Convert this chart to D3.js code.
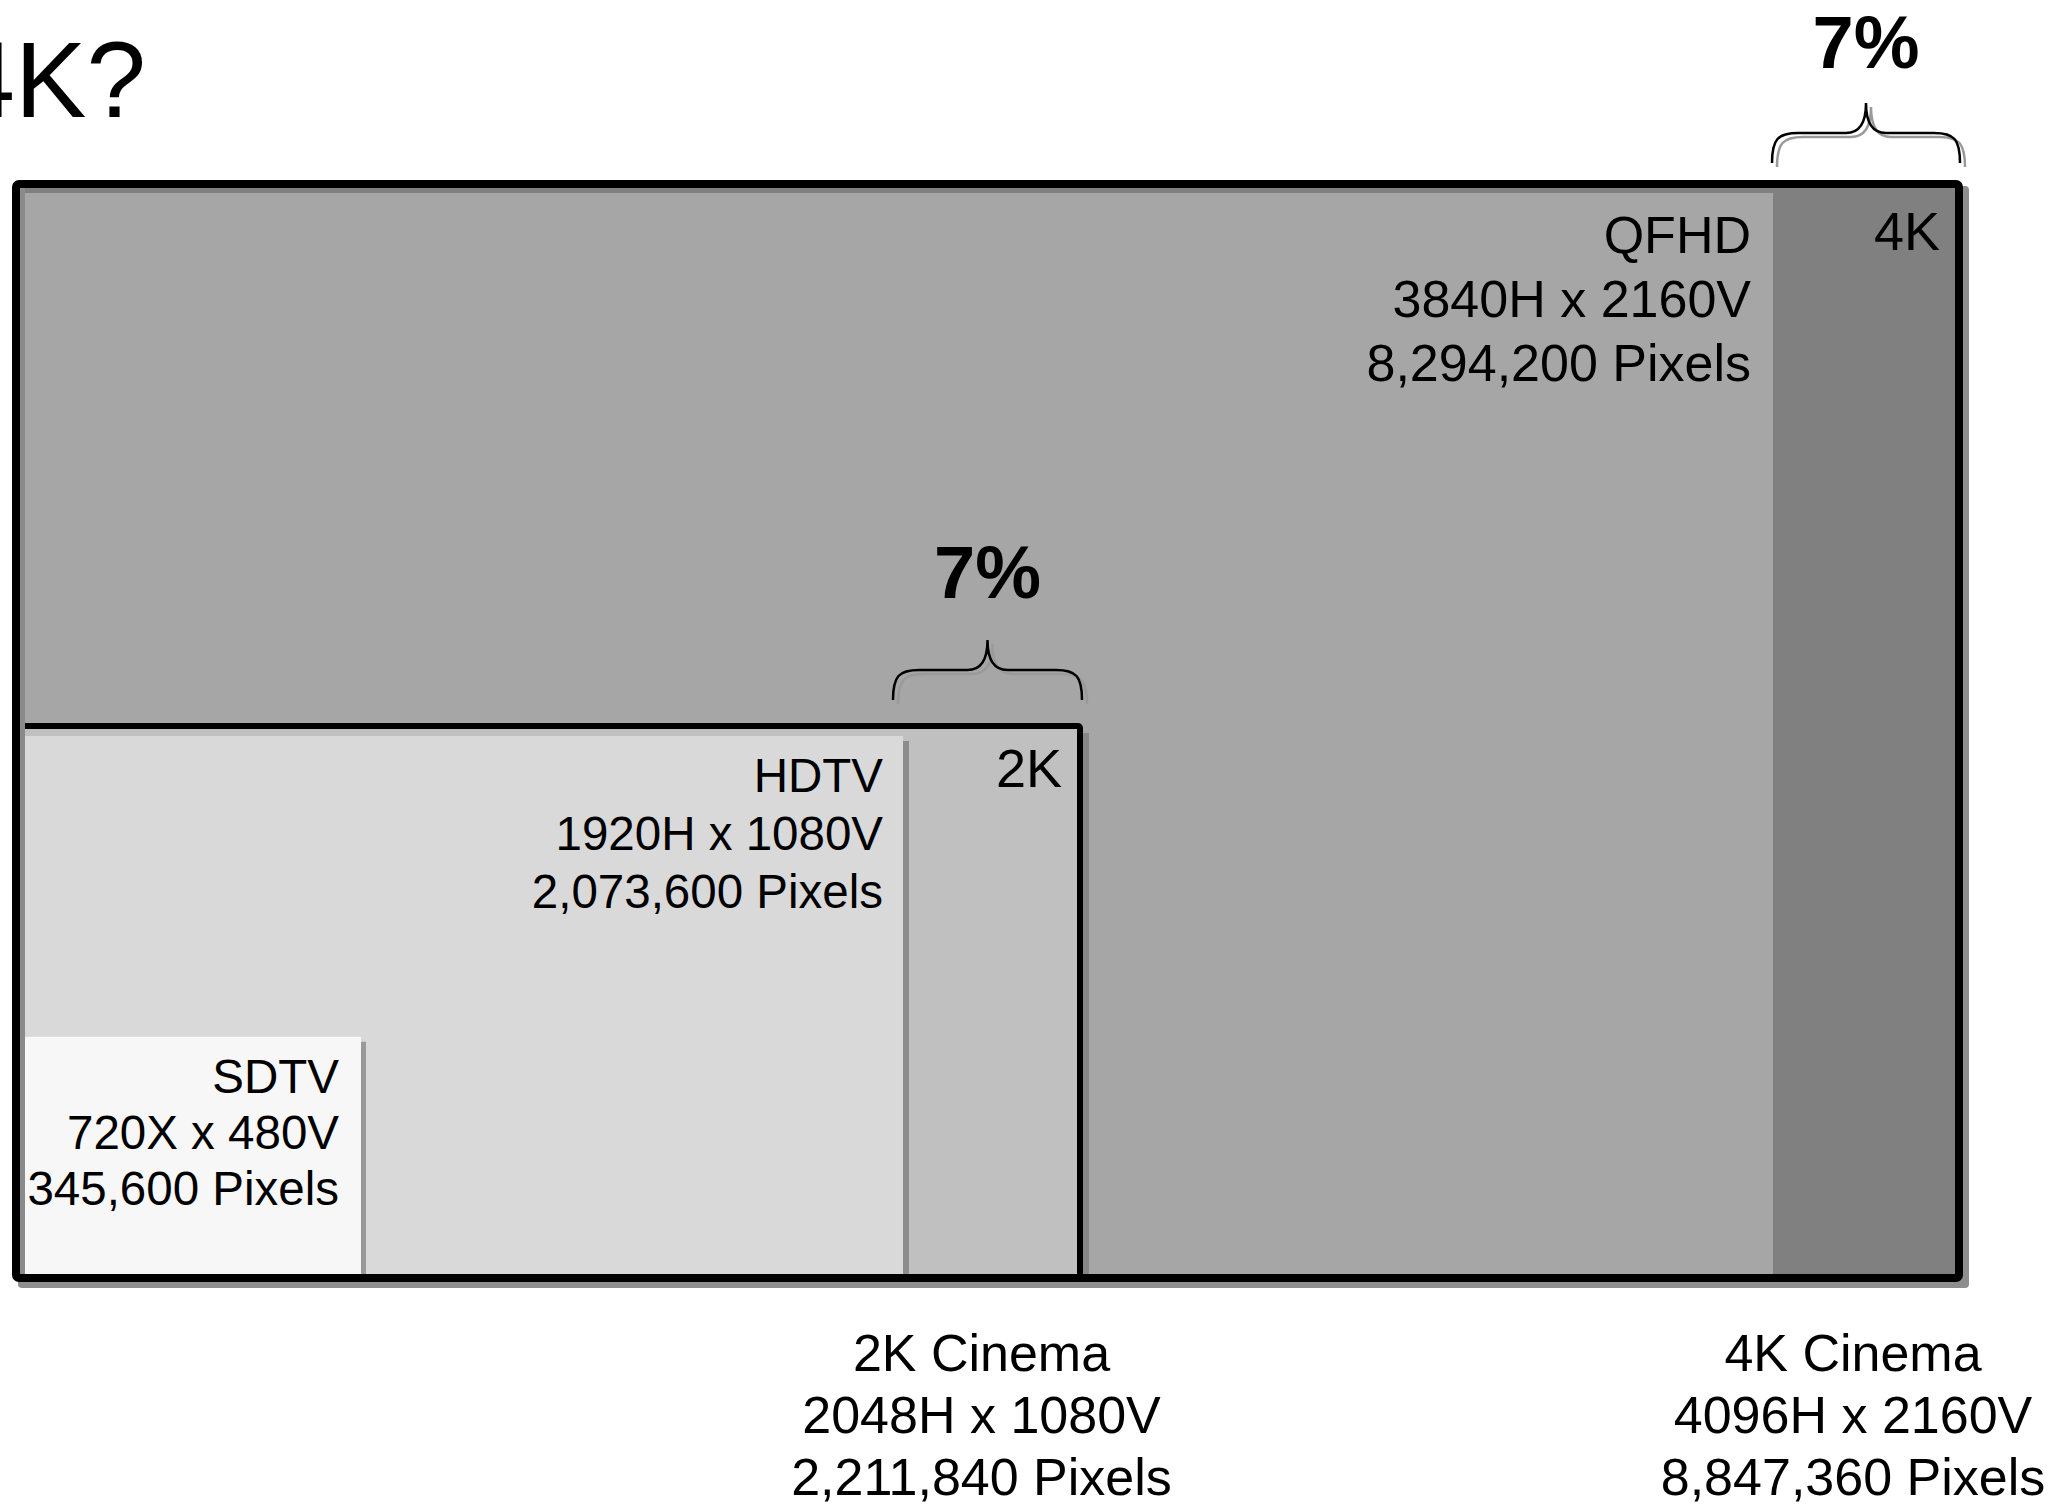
<!DOCTYPE html>
<html>
<head>
<meta charset="utf-8">
<script src="https://cdn.jsdelivr.net/npm/d3@7"></script>
<style>
  html, body { margin: 0; padding: 0; background: #ffffff; }
  svg { display: block; }
  text { font-family: "Liberation Sans", Arial, sans-serif; fill: #000; }
</style>
</head>
<body>
<svg id="chart" width="2066" height="1507"></svg>
<script>
// ---------- DATA ----------
const formats      = ["SDTV", "HDTV", "2K Cinema", "QFHD", "4K Cinema"];
const widthsH      = [720, 1920, 2048, 3840, 4096];
const heightsV     = [480, 1080, 1080, 2160, 2160];
const resLabels    = ["720X x 480V", "1920H x 1080V", "2048H x 1080V", "3840H x 2160V", "4096H x 2160V"];
const pixelLabels  = ["345,600 Pixels", "2,073,600 Pixels", "2,211,840 Pixels", "8,294,200 Pixels", "8,847,360 Pixels"];
const stripLabels  = ["2K", "4K"];
const braceFrom    = [1920, 3840];
const braceTo      = [2048, 4096];
const braceLabels  = ["7%", "7%"];
const titleText    = "4K?";

// ---------- LAYOUT ----------
const svg = d3.select("#chart");
// schematic (non-uniform) horizontal scale, vertical linear scale
const x = d3.scaleLinear().domain([0, 720, 1920, 2048, 3840, 4096]).range([20, 361, 903, 1080, 1773, 1959]);
const y = d3.scaleLinear().domain([0, 2160]).range([1274, 184]);

const fills = { "SDTV": "#f7f7f7", "HDTV": "#d9d9d9", "2K Cinema": "#c0c0c0", "QFHD": "#a6a6a6", "4K Cinema": "#808080" };
const idx = name => formats.indexOf(name);

// Title
svg.append("text").attr("x", 146).attr("y", 117)
  .attr("text-anchor", "end").style("font-size", "107px").text(titleText);

// Outer shadow
const o = idx("4K Cinema");
svg.append("rect")
  .attr("x", x(0) - 8 + 6).attr("y", y(heightsV[o]) - 4 + 6)
  .attr("width", x(widthsH[o]) + 4 - (x(0) - 8)).attr("height", y(0) + 8 - (y(heightsV[o]) - 4))
  .attr("rx", 4).attr("fill", "#8e8e8e");

// 4K fill
svg.append("rect")
  .attr("x", x(0) - 4).attr("y", y(heightsV[o]))
  .attr("width", x(widthsH[o]) - x(0) + 4).attr("height", y(0) - y(heightsV[o]) + 4)
  .attr("fill", fills["4K Cinema"]);

// QFHD fill
const q = idx("QFHD");
svg.append("rect")
  .attr("x", x(0) + 5).attr("y", y(heightsV[q]) + 9)
  .attr("width", x(widthsH[q]) - x(0) - 5).attr("height", y(0) - y(heightsV[q]) - 9)
  .attr("fill", fills["QFHD"]);

// 2K box: shadow, fill, border
const k2 = idx("2K Cinema");
svg.append("rect")
  .attr("x", x(widthsH[k2]) + 3).attr("y", y(heightsV[k2]) + 4)
  .attr("width", 6).attr("height", y(0) - y(heightsV[k2]))
  .attr("fill", "#888888");
svg.append("rect")
  .attr("x", x(0) - 3).attr("y", y(heightsV[k2]) - 3)
  .attr("width", x(widthsH[k2]) - x(0) + 3).attr("height", y(0) - y(heightsV[k2]) + 6)
  .attr("fill", fills["2K Cinema"]).attr("stroke", "#000").attr("stroke-width", 6).attr("rx", 2);

// HDTV: shadow + fill
const h = idx("HDTV");
svg.append("rect")
  .attr("x", x(widthsH[h])).attr("y", y(heightsV[h]) + 12)
  .attr("width", 6).attr("height", y(0) - y(heightsV[h]) - 12)
  .attr("fill", "#8c8c8c");
svg.append("rect")
  .attr("x", x(0) + 5).attr("y", y(heightsV[h]) + 7)
  .attr("width", x(widthsH[h]) - x(0) - 5).attr("height", y(0) - y(heightsV[h]) - 7)
  .attr("fill", fills["HDTV"]);

// SDTV: shadow + fill
const s = idx("SDTV");
svg.append("rect")
  .attr("x", x(widthsH[s])).attr("y", y(heightsV[s]) + 10)
  .attr("width", 5).attr("height", y(0) - y(heightsV[s]) - 10)
  .attr("fill", "#999999");
svg.append("rect")
  .attr("x", x(0) + 5).attr("y", y(heightsV[s]) + 5)
  .attr("width", x(widthsH[s]) - x(0) - 5).attr("height", y(0) - y(heightsV[s]) - 5)
  .attr("fill", fills["SDTV"]);

// inner left strip (4K colour shows along left edge)
svg.append("rect")
  .attr("x", x(0)).attr("y", y(heightsV[o]) + 4)
  .attr("width", 5).attr("height", y(0) - y(heightsV[o]) - 4)
  .attr("fill", "#8a8a8a");

// Outer border
svg.append("rect")
  .attr("x", x(0) - 4).attr("y", y(heightsV[o]))
  .attr("width", x(widthsH[o]) - x(0) + 4).attr("height", y(0) - y(heightsV[o]) + 4)
  .attr("fill", "none").attr("stroke", "#000").attr("stroke-width", 8).attr("rx", 3);

// ---------- LABELS ----------
function multiline(xp, y0, dy, lines, size, anchor) {
  const t = svg.append("text").attr("text-anchor", anchor).style("font-size", size + "px");
  lines.forEach((ln, i) => t.append("tspan").attr("x", xp).attr("y", y0 + i * dy).text(ln));
  return t;
}
// QFHD
multiline(x(widthsH[q]) - 22, y(heightsV[q]) + 69, 64, [formats[q], resLabels[q], pixelLabels[q]], 52, "end");
// HDTV
multiline(x(widthsH[h]) - 20, y(heightsV[h]) + 63, 58, [formats[h], resLabels[h], pixelLabels[h]], 47.5, "end");
// SDTV
multiline(x(widthsH[s]) - 22, y(heightsV[s]) + 61, 56, [formats[s], resLabels[s], pixelLabels[s]], 47.5, "end");
// strip labels
svg.append("text").attr("x", x(widthsH[k2]) - 18).attr("y", y(heightsV[k2]) + 58)
  .attr("text-anchor", "end").style("font-size", "54px").text(stripLabels[0]);
svg.append("text").attr("x", x(widthsH[o]) - 19).attr("y", y(heightsV[o]) + 66)
  .attr("text-anchor", "end").style("font-size", "54px").text(stripLabels[1]);
// Bottom labels
multiline((x(widthsH[h]) + x(widthsH[k2])) / 2 - 10, y(0) + 97, 62, [formats[k2], resLabels[k2], pixelLabels[k2]], 52, "middle");
multiline((x(widthsH[q]) + x(widthsH[o])) / 2 - 13, y(0) + 97, 62, [formats[o], resLabels[o], pixelLabels[o]], 52, "middle");

// ---------- BRACES ----------
const braceTops = [y(heightsV[k2]), y(heightsV[o])];
const braceGap = [29, 21];
const textGap = [42, 35];
function bracePath(x1, x2, xm, yb) {
  const yh = yb - 30, yt = yb - 60;
  return `M${x1},${yb} C${x1},${yh + 6} ${x1 + 6},${yh} ${x1 + 26},${yh}` +
         ` L${xm - 20},${yh} C${xm - 7},${yh} ${xm},${yh - 10} ${xm},${yt}` +
         ` C${xm},${yh - 10} ${xm + 7},${yh} ${xm + 20},${yh}` +
         ` L${x2 - 26},${yh} C${x2 - 6},${yh} ${x2},${yh + 6} ${x2},${yb}`;
}
braceFrom.forEach((f, i) => {
  const x1 = x(f) - (i === 0 ? 10 : 1);
  const x2 = x(braceTo[i]) + (i === 0 ? 2 : 1);
  const xm = (x1 + x2) / 2;
  const yb = braceTops[i] - braceGap[i];
  svg.append("path").attr("d", bracePath(x1, x2, xm, yb))
    .attr("transform", "translate(5,4)")
    .attr("fill", "none").attr("stroke", "#9a9a9a").attr("stroke-width", 2.5);
  svg.append("path").attr("d", bracePath(x1, x2, xm, yb))
    .attr("fill", "none").attr("stroke", "#000").attr("stroke-width", 2.5);
  svg.append("text").attr("x", xm).attr("y", yb - 60 - textGap[i])
    .attr("text-anchor", "middle").style("font-size", "74px").style("font-weight", "bold")
    .text(braceLabels[i]);
});
</script>
</body>
</html>
